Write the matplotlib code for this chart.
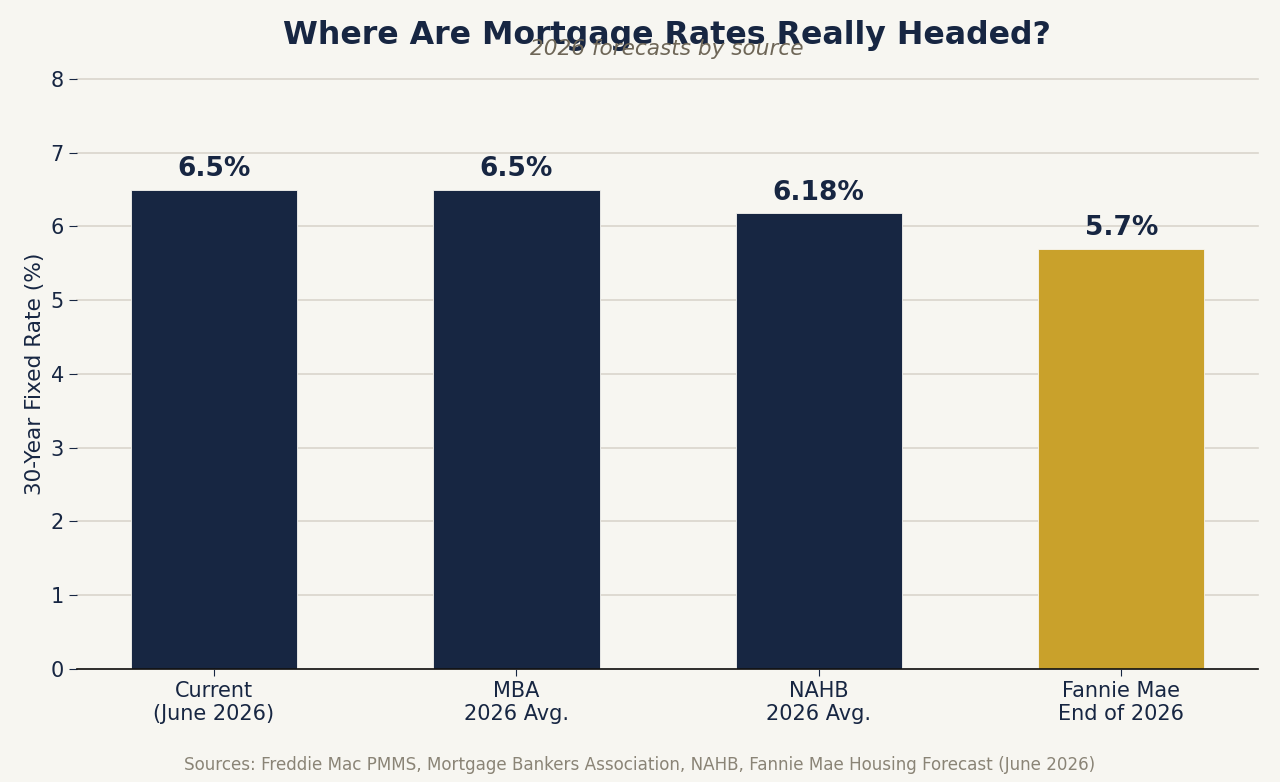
import matplotlib
matplotlib.use("Agg")
import matplotlib.pyplot as plt

plt.rcParams["font.family"] = ["DejaVu Sans"]

categories = ["Current\n(June 2026)", "MBA\n2026 Avg.", "NAHB\n2026 Avg.", "Fannie Mae\nEnd of 2026"]
rates = [6.5, 6.5, 6.18, 5.7]
labels = ["6.5%", "6.5%", "6.18%", "5.7%"]
colors = ["#172642", "#172642", "#172642", "#C9A12B"]
yticks = [0, 1, 2, 3, 4, 5, 6, 7, 8]

BG = "#F7F6F1"
NAVY = "#172642"

fig = plt.figure(figsize=(12.8, 7.82), dpi=100, facecolor=BG)
ax = fig.add_axes([0.0602, 0.1445, 0.9227, 0.7545])
ax.set_facecolor(BG)

x = list(range(len(categories)))
ax.bar(x, rates, width=0.55, color=colors, edgecolor=BG, linewidth=0.6, zorder=2)
for xi, v, lab in zip(x, rates, labels):
    ax.text(xi, v + 0.1, lab, ha="center", va="bottom", fontsize=19,
            fontweight="bold", color=NAVY, zorder=3)

ax.set_ylim(0, 8)
ax.set_yticks(yticks)
ax.set_xticks(x)
ax.set_xticklabels(categories, fontsize=15, color=NAVY)
ax.tick_params(axis="y", labelsize=15, colors=NAVY, length=6)
ax.tick_params(axis="x", colors=NAVY, length=5)
ax.grid(axis="y", color="#DAD5CC", linewidth=1.2)
for gl in ax.get_ygridlines():
    gl.set_clip_on(False)
ax.set_axisbelow(True)
for s in ["top", "right", "left"]:
    ax.spines[s].set_visible(False)
ax.spines["bottom"].set_color("#111111")
ax.spines["bottom"].set_linewidth(1.2)
ax.set_ylabel("30-Year Fixed Rate (%)", fontsize=15.6, color=NAVY, labelpad=4)

fig.text(0.521, 0.955, "Where Are Mortgage Rates Really Headed?", ha="center", va="center",
         fontsize=22.8, fontweight="bold", color=NAVY)
fig.text(0.521, 0.937, "2026 forecasts by source", ha="center", va="center",
         fontsize=15.6, style="italic", color="#6E6657")
fig.text(0.5, 0.022, "Sources: Freddie Mac PMMS, Mortgage Bankers Association, NAHB, Fannie Mae Housing Forecast (June 2026)",
         ha="center", va="center", fontsize=12.1, color="#8A8476")

fig.savefig("out.png", dpi=100, facecolor=BG)
